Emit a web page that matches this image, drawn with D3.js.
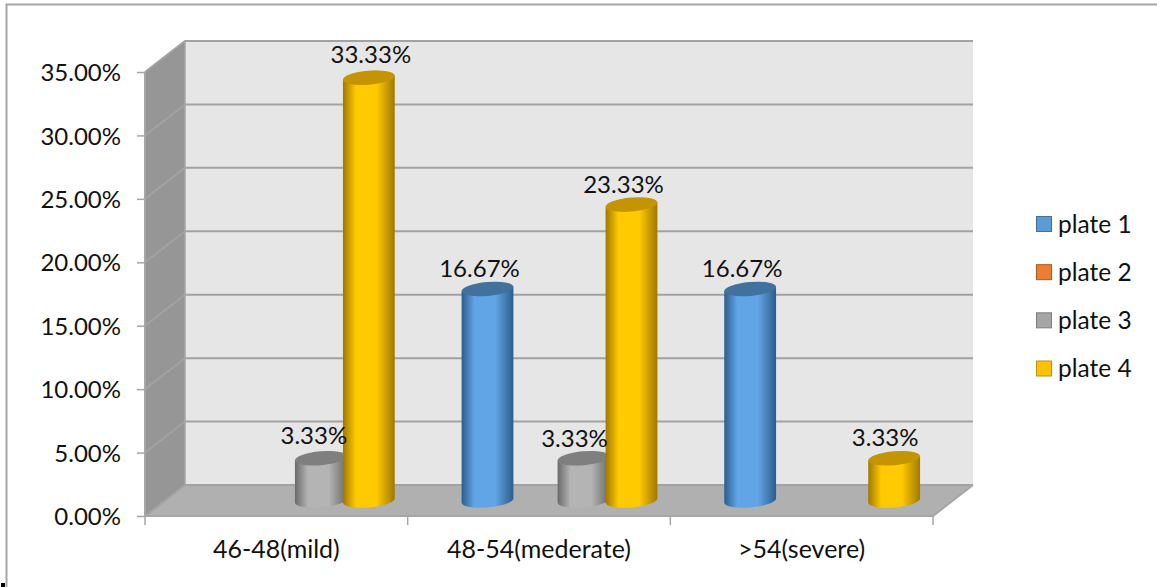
<!DOCTYPE html>
<html><head><meta charset="utf-8">
<script src="https://cdn.jsdelivr.net/npm/d3@7"></script>
<style>html,body{margin:0;padding:0;background:#fff}svg{display:block}
text{font-family:Lato,"Open Sans",sans-serif;fill:#111}</style></head>
<body><div id="c"></div>
<script>
const categories = ["46-48(mild)", "48-54(mederate)", ">54(severe)"];
const seriesNames = ["plate 1", "plate 2", "plate 3", "plate 4"];
const plate1 = [null, 16.67, 16.67];
const plate2 = [null, null, null];
const plate3 = [3.33, 3.33, null];
const plate4 = [33.33, 23.33, 3.33];
const yTicks = [0, 5, 10, 15, 20, 25, 30, 35];
const seriesValues = [plate1, plate2, plate3, plate4];

const W = 1157, H = 587, fs = 24;
const x0 = 145, x1 = 933, yB = 516, yT = 72, dx = 40, dy = -31;
const colors = [
  {edge:"#2c5d8c", mid:"#62a5e6", top:"#41719c", sw:"#5b9bd5", sb:"#41719c"},
  {edge:"#a85a20", mid:"#f08030", top:"#b45a1e", sw:"#ed7d31", sb:"#ae5a21"},
  {edge:"#6a6a6a", mid:"#b4b4b4", top:"#7f7f7f", sw:"#a5a5a5", sb:"#7c7c7c"},
  {edge:"#a07800", mid:"#ffca00", top:"#c49500", sw:"#ffc000", sb:"#bc9218"}
];
// hand-placed data label offsets in the reference, [category][series] -> [dx, dy]
const nudge = [
  [null, null, [-7, -23], [2, -23]],
  [[-8, -20], null, [-9, -20], [-8, -20]],
  [[-8, -20], null, null, [-9, -21]]
];

const y = d3.scaleLinear().domain([0, 35]).range([yB, yT]);
const xCat = d3.scaleBand().domain(categories).range([x0, x1]);
const inner = d3.scaleBand().domain(seriesNames).range([0, 192]);
const barW = 52, rx = barW / 2, ry = 7, tilt = -5;

const svg = d3.select("#c").append("svg").attr("width", W).attr("height", H);
const defs = svg.append("defs");
colors.forEach((c, i) => {
  const g = defs.append("linearGradient").attr("id", "g" + i);
  [[0, c.edge], [.25, c.mid], [.65, c.mid], [1, c.edge]].forEach(s =>
    g.append("stop").attr("offset", s[0]).attr("stop-color", s[1]));
});

// outer frame
svg.append("path").attr("d", `M6.5,587V4.5H${W}`).attr("fill", "none").attr("stroke", "#a6a6a6").attr("stroke-width", 2);
svg.append("rect").attr("x", 1).attr("y", 583).attr("width", 4).attr("height", 4).attr("fill", "#000");

// walls
const poly = p => "M" + p.map(a => a.join(",")).join("L") + "Z";
svg.append("path").attr("d", poly([[x0 + dx, yT + dy], [x1 + dx, yT + dy], [x1 + dx, yB + dy], [x0 + dx, yB + dy]])).attr("fill", "#e6e6e6");
svg.append("path").attr("d", poly([[x0, yT], [x0 + dx, yT + dy], [x0 + dx, yB + dy], [x0, yB]])).attr("fill", "#969696");
svg.append("path").attr("d", poly([[x0, yB], [x0 + dx, yB + dy], [x1 + dx, yB + dy], [x1, yB]])).attr("fill", "#b0b0b0");

// gridlines
const grid = svg.append("g").attr("fill", "none");
yTicks.forEach(tv => {
  grid.append("path").attr("d", `M${x0},${y(tv)}L${x0 + dx},${y(tv) + dy}L${x1 + dx},${y(tv) + dy}`)
    .attr("stroke", "#a2a2a2").attr("stroke-width", 2);
});
grid.append("path").attr("d", `M${x0 + dx},${yT + dy}V${yB + dy}`).attr("stroke", "#a6a6a6").attr("stroke-width", 1.5);
grid.append("path").attr("d", `M${x0},${yT}V${yB}H${x1}L${x1 + dx},${yB + dy}`).attr("stroke", "#a6a6a6").attr("stroke-width", 2);

// axes
const yAxis = d3.axisLeft(y).tickValues(yTicks).tickSize(8).tickPadding(16).tickFormat(d => d3.format(".2f")(d) + "%");
const gy = svg.append("g").attr("transform", `translate(${x0},0)`).call(yAxis);
gy.select(".domain").remove();
gy.selectAll("line").attr("stroke", "#a6a6a6").attr("stroke-width", 1.5);
gy.selectAll("text").attr("font-size", fs).attr("x", -24).attr("y", 1);

const xAxis = d3.axisBottom(xCat).tickSize(0).tickPadding(24);
const gx = svg.append("g").attr("transform", `translate(0,${yB})`).call(xAxis);
gx.select(".domain").remove();
gx.selectAll("line").remove();
gx.selectAll("text").attr("font-size", 25).attr("font-family", null);
const edges = [...categories.map(c => xCat(c)), x1];
gx.selectAll(".edge").data(edges).enter().append("line").attr("class", "edge")
  .attr("x1", d => d).attr("x2", d => d).attr("y1", 0).attr("y2", 9)
  .attr("stroke", "#a6a6a6").attr("stroke-width", 1.5);

// cylinders
const rad = tilt * Math.PI / 180, ex = rx * Math.cos(rad), ey = rx * Math.sin(rad);
const bars = [];
categories.forEach((c, ci) => seriesNames.forEach((s, si) => {
  const v = seriesValues[si][ci];
  if (v == null) return;
  const gap = (xCat.bandwidth() - inner.range()[1] - (barW - inner.bandwidth())) / 2;
  bars.push({ci, si, v, cx: xCat(c) + dx / 2 + gap + inner(s) + rx + 0.5, yb: y(0) + dy / 2, yt: y(v) + dy / 2});
}));
const gb = svg.append("g");
bars.forEach(b => {
  const g = gb.append("g");
  g.append("path").attr("fill", `url(#g${b.si})`)
    .attr("d", `M${b.cx - ex},${b.yt - ey}L${b.cx - ex},${b.yb - ey}A${rx},${ry} ${tilt} 0 0 ${b.cx + ex},${b.yb + ey}L${b.cx + ex},${b.yt + ey}Z`);
  g.append("ellipse").attr("cx", b.cx).attr("cy", b.yt).attr("rx", rx).attr("ry", ry)
    .attr("transform", `rotate(${tilt} ${b.cx} ${b.yt})`).attr("fill", colors[b.si].top);
});
svg.append("g").selectAll("text").data(bars).enter().append("text")
  .attr("x", b => b.cx + nudge[b.ci][b.si][0]).attr("y", b => b.yt + nudge[b.ci][b.si][1])
  .attr("dy", "0.35em").attr("text-anchor", "middle").attr("font-size", fs)
  .text(b => b.v.toFixed(2) + "%");

// legend
const ly = d3.scalePoint().domain(seriesNames).range([224, 368.5]);
const lg = svg.append("g").selectAll("g").data(seriesNames).enter().append("g")
  .attr("transform", d => `translate(1036,${ly(d)})`);
lg.append("rect").attr("x", .5).attr("y", -7.5).attr("width", 15).attr("height", 15)
  .attr("fill", (d, i) => colors[i].sw).attr("stroke", (d, i) => colors[i].sb);
lg.append("text").attr("x", 22).attr("dy", "0.35em").attr("font-size", 24.5).text(d => d);
</script></body></html>
